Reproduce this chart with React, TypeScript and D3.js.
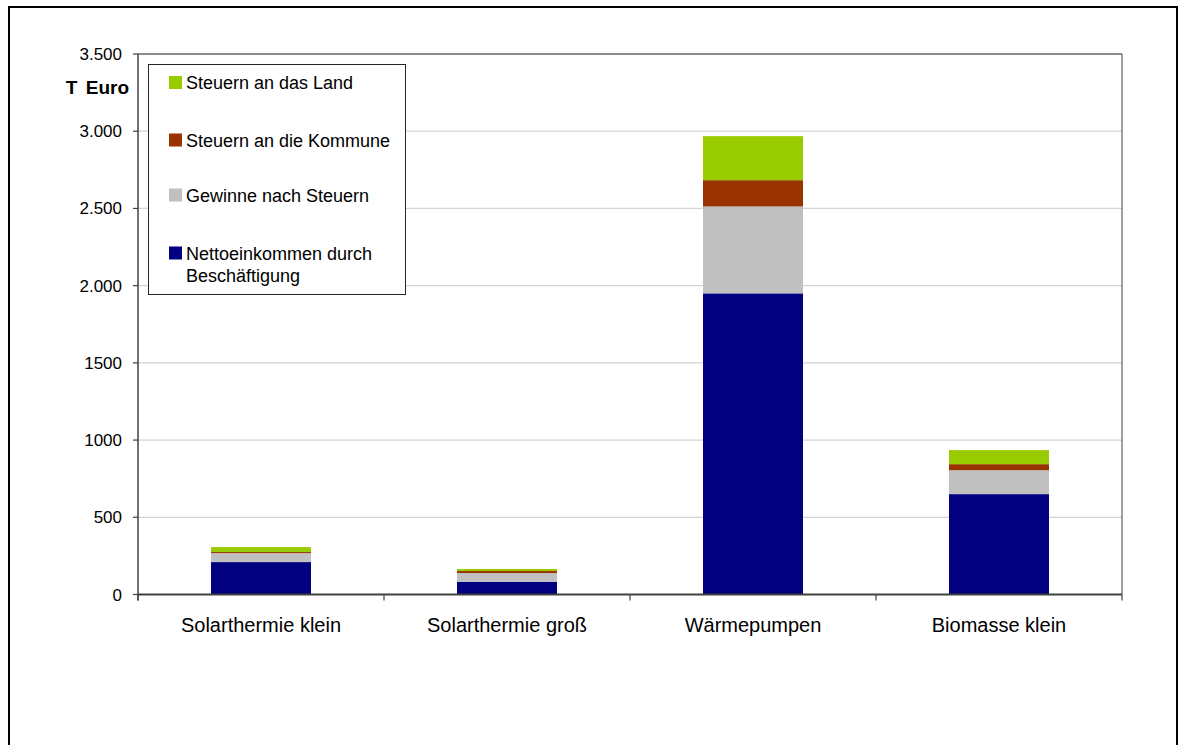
import React from "react";
import * as d3 from "d3";

const categories = ["Solarthermie klein", "Solarthermie groß", "Wärmepumpen", "Biomasse klein"];
const netto = [210, 81, 1950, 650];
const gewinne = [58, 58, 563, 155];
const kommune = [7, 13, 170, 39];
const land = [32, 13, 285, 91];

const seriesKeys = ["netto", "gewinne", "kommune", "land"];
const seriesColors = ["#000080", "#C0C0C0", "#993300", "#99CC00"];
const legendLabels = [
  ["Steuern an das Land"],
  ["Steuern an die Kommune"],
  ["Gewinne nach Steuern"],
  ["Nettoeinkommen durch", "Beschäftigung"],
];
const legendColors = ["#99CC00", "#993300", "#C0C0C0", "#000080"];
const tickValues = [0, 500, 1000, 1500, 2000, 2500, 3000, 3500];
const tickLabels = ["0", "500", "1000", "1500", "2.000", "2.500", "3.000", "3.500"];

export default function App() {
  const left = 138, right = 1122, top = 54, bottom = 594.5;
  const x = d3.scaleBand<string>().domain(categories).range([left, right]).paddingInner(0.5935).paddingOuter(0.5935 / 2);
  const y = d3.scaleLinear().domain([0, 3500]).range([bottom, top]);
  const step = x.step();

  const rows = categories.map((c, i) => ({ cat: c, netto: netto[i], gewinne: gewinne[i], kommune: kommune[i], land: land[i] }));
  const stacked = d3.stack<any>().keys(seriesKeys)(rows);

  const font = "'Liberation Sans', Arial, sans-serif";

  return (
    <svg width={1184} height={745} style={{ position: "fixed", left: 0, top: 0, background: "#fff" }} fontFamily={font}>
      <rect x={0} y={0} width={1184} height={745} fill="#fff" />
      {/* outer border */}
      <rect x={9} y={7} width={1168} height={780} fill="none" stroke="#000" strokeWidth={2} />

      {/* gridlines */}
      {tickValues.slice(1, -1).map((v) => (
        <line key={v} x1={left} x2={right} y1={y(v)} y2={y(v)} stroke="#d4d4d4" strokeWidth={1.2} />
      ))}
      {/* plot area top & right border */}
      <line x1={left} x2={right} y1={y(3500)} y2={y(3500)} stroke="#1a1a1a" strokeWidth={1} />
      <line x1={right} x2={right} y1={y(3500)} y2={bottom} stroke="#404040" strokeWidth={1} />

      {/* bars */}
      {stacked.map((s, si) =>
        s.map((d, i) => (
          <rect
            key={`${si}-${i}`}
            x={x(categories[i])}
            width={x.bandwidth()}
            y={y(d[1])}
            height={y(d[0]) - y(d[1])}
            fill={seriesColors[si]}
          />
        ))
      )}

      {/* y axis */}
      <line x1={left} x2={left} y1={top} y2={bottom + 6} stroke="#404040" strokeWidth={1.5} />
      {tickValues.map((v, i) => (
        <g key={v}>
          <line x1={left - 5} x2={left} y1={y(v)} y2={y(v)} stroke="#404040" strokeWidth={1.2} />
          <text x={122} y={y(v) + 6} textAnchor="end" fontSize={17} fill="#000">
            {tickLabels[i]}
          </text>
        </g>
      ))}
      <text x={129} y={94} textAnchor="end" fontSize={19} fontWeight="bold" wordSpacing={3} fill="#000">
        T Euro
      </text>

      {/* x axis */}
      <line x1={left} x2={right} y1={bottom} y2={bottom} stroke="#404040" strokeWidth={2} />
      {d3.range(categories.length + 1).map((i) => (
        <line key={i} x1={left + step * i} x2={left + step * i} y1={bottom} y2={bottom + 6} stroke="#404040" strokeWidth={1.2} />
      ))}
      {categories.map((c) => (
        <text key={c} x={(x(c) as number) + x.bandwidth() / 2} y={632} textAnchor="middle" fontSize={20} fill="#000">
          {c}
        </text>
      ))}

      {/* legend */}
      <rect x={148.5} y={64.5} width={257} height={230} fill="#fff" stroke="#262626" strokeWidth={1} />
      {legendLabels.map((lines, i) => {
        const base = [89, 146.5, 201.5, 259.5][i];
        return (
          <g key={i}>
            <rect x={169} y={base - 13} width={13} height={13} fill={legendColors[i]} />
            {lines.map((t, j) => (
              <text key={j} x={186} y={base + j * 22} fontSize={18} fill="#000">
                {t}
              </text>
            ))}
          </g>
        );
      })}
    </svg>
  );
}
